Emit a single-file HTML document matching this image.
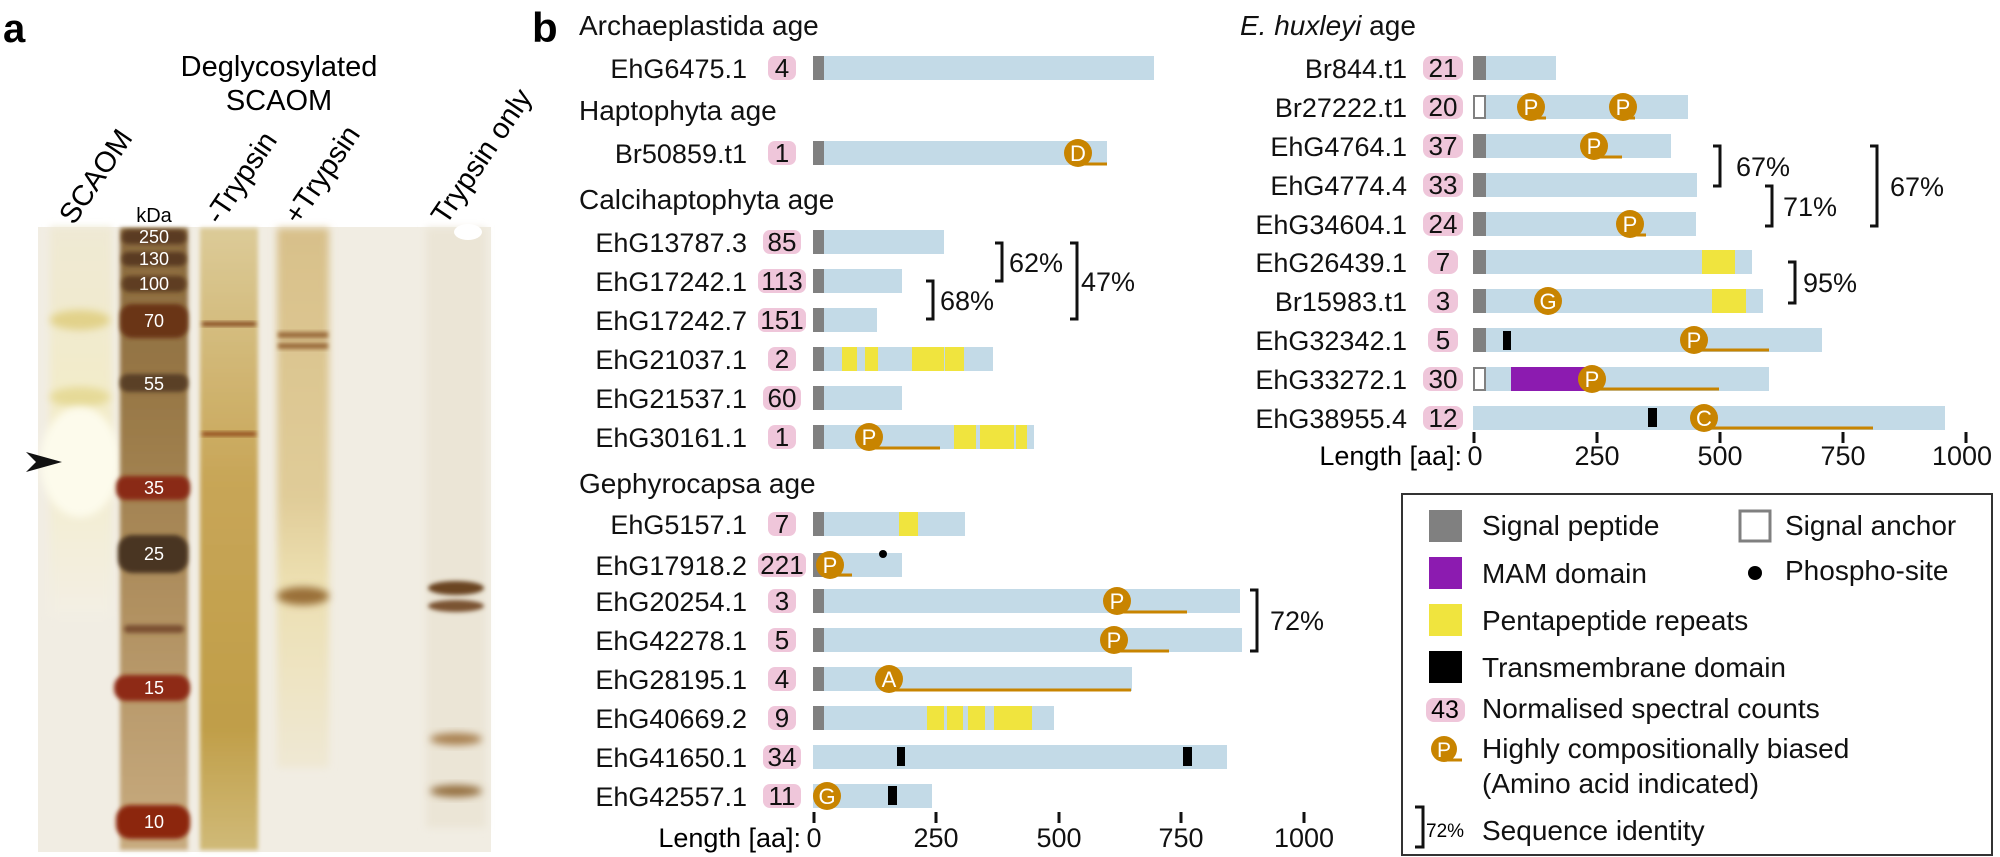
<!DOCTYPE html>
<html><head><meta charset="utf-8"><style>
html,body{margin:0;padding:0;background:#fff;}
svg{display:block;font-family:"Liberation Sans",Arial,sans-serif;}
</style></head><body>
<svg width="2000" height="857" viewBox="0 0 2000 857" xmlns="http://www.w3.org/2000/svg">
<defs>
<filter id="b2" x="-50%" y="-50%" width="200%" height="200%"><feGaussianBlur stdDeviation="2"/></filter>
<filter id="b4" x="-50%" y="-50%" width="200%" height="200%"><feGaussianBlur stdDeviation="4"/></filter>
<filter id="b8" x="-50%" y="-50%" width="200%" height="200%"><feGaussianBlur stdDeviation="8"/></filter>
<linearGradient id="ladder" x1="0" y1="0" x2="0" y2="1">
<stop offset="0" stop-color="#8a6a3e"/><stop offset="0.3" stop-color="#9a7a48"/><stop offset="0.6" stop-color="#b09060"/><stop offset="1" stop-color="#c8ac80"/></linearGradient>
<linearGradient id="minus" x1="0" y1="0" x2="0" y2="1">
<stop offset="0" stop-color="#dccb98"/><stop offset="0.4" stop-color="#c8a658"/><stop offset="0.8" stop-color="#c09e48"/><stop offset="1" stop-color="#d0ba78"/></linearGradient>
<linearGradient id="plus" x1="0" y1="0" x2="0" y2="1">
<stop offset="0" stop-color="#d8c08a"/><stop offset="0.5" stop-color="#e0cc98"/><stop offset="0.65" stop-color="#ecdfb0"/><stop offset="1" stop-color="#efe8d4"/></linearGradient>
<linearGradient id="sca" x1="0" y1="0" x2="0" y2="1">
<stop offset="0" stop-color="#efe9d4"/><stop offset="0.5" stop-color="#f3ecc8"/><stop offset="1" stop-color="#f3efe4"/></linearGradient>
</defs>

<!-- ===== Panel a ===== -->
<rect x="38" y="227" width="453" height="625" fill="#f1ede3"/>
<rect x="50" y="227" width="62" height="390" fill="url(#sca)" filter="url(#b4)"/>
<ellipse cx="80" cy="320" rx="30" ry="10" fill="#e2d28a" filter="url(#b4)"/>
<ellipse cx="80" cy="397" rx="30" ry="10" fill="#e6da98" filter="url(#b4)"/>
<ellipse cx="80" cy="462" rx="40" ry="55" fill="#fdfbec" filter="url(#b4)"/>
<polygon points="26,452 62,462 26,472 36,462" fill="#111"/>
<rect x="120" y="228" width="68" height="622" fill="url(#ladder)" filter="url(#b2)"/>
<g filter="url(#b2)">
<rect x="122" y="230" width="64" height="14" rx="6" fill="#5a3a22"/>
<rect x="122" y="252" width="64" height="14" rx="6" fill="#5a3a22"/>
<rect x="122" y="276" width="64" height="16" rx="7" fill="#5e3c22"/>
<rect x="120" y="304" width="68" height="34" rx="12" fill="#6a3418"/>
<rect x="120" y="374" width="68" height="18" rx="8" fill="#5a4028"/>
<rect x="116" y="476" width="74" height="24" rx="10" fill="#8a2a12"/>
<rect x="118" y="535" width="70" height="38" rx="14" fill="#4a3420"/>
<rect x="124" y="625" width="60" height="8" rx="4" fill="#7a5030"/>
<rect x="114" y="675" width="76" height="26" rx="12" fill="#8e2c12"/>
<rect x="116" y="805" width="74" height="34" rx="14" fill="#8c2810"/>
</g>
<g fill="#fff" font-size="18" text-anchor="middle">
<text x="154" y="243">250</text><text x="154" y="265">130</text><text x="154" y="290">100</text>
<text x="154" y="327">70</text><text x="154" y="390">55</text><text x="154" y="494">35</text>
<text x="154" y="560">25</text><text x="154" y="694">15</text><text x="154" y="828">10</text>
</g>
<rect x="200" y="228" width="58" height="622" fill="url(#minus)" filter="url(#b2)"/>
<rect x="202" y="322" width="54" height="4" fill="#7a3a18" filter="url(#b2)"/>
<rect x="202" y="432" width="54" height="4" fill="#8a4018" filter="url(#b2)"/>
<rect x="277" y="228" width="52" height="540" fill="url(#plus)" filter="url(#b4)"/>
<rect x="278" y="332" width="50" height="6" fill="#9a6a3a" filter="url(#b2)"/>
<rect x="278" y="343" width="50" height="6" fill="#9a6a3a" filter="url(#b2)"/>
<ellipse cx="303" cy="596" rx="26" ry="9" fill="#9a7038" filter="url(#b4)"/>
<rect x="426" y="228" width="60" height="600" fill="#ebe5d6" filter="url(#b4)"/>
<ellipse cx="456" cy="588" rx="28" ry="7" fill="#6a4422" filter="url(#b2)"/>
<ellipse cx="456" cy="606" rx="28" ry="6" fill="#7a5230" filter="url(#b2)"/>
<ellipse cx="456" cy="739" rx="26" ry="6" fill="#a88050" filter="url(#b4)"/>
<ellipse cx="456" cy="791" rx="26" ry="6" fill="#947040" filter="url(#b4)"/>
<ellipse cx="468" cy="232" rx="14" ry="8" fill="#fff"/>

<text x="3" y="42" font-size="40" font-weight="bold">a</text>
<text x="279" y="76" font-size="29" text-anchor="middle">Deglycosylated</text>
<text x="279" y="110" font-size="29" text-anchor="middle">SCAOM</text>
<g font-size="29">
<text transform="translate(74,226) rotate(-56)">SCAOM</text>
<text transform="translate(220,226) rotate(-56)">-Trypsin</text>
<text transform="translate(299,226) rotate(-56)">+Trypsin</text>
<text transform="translate(446,226) rotate(-56)">Trypsin only</text>
</g>
<text x="154" y="222" font-size="20" text-anchor="middle">kDa</text>

<!-- ===== Panel b ===== -->
<text x="532" y="42" font-size="42" font-weight="bold">b</text>
<g font-size="28" fill="#111">
<text x="579" y="35">Archaeplastida age</text>
<text x="579" y="120">Haptophyta age</text>
<text x="579" y="209">Calcihaptophyta age</text>
<text x="579" y="493">Gephyrocapsa age</text>
<text x="1240" y="35"><tspan font-style="italic">E. huxleyi</tspan> age</text>
</g>

<g font-size="27" fill="#111">
<g text-anchor="end">
<text x="747" y="78">EhG6475.1</text>
<text x="747" y="163">Br50859.t1</text>
<text x="747" y="252">EhG13787.3</text>
<text x="747" y="291">EhG17242.1</text>
<text x="747" y="330">EhG17242.7</text>
<text x="747" y="369">EhG21037.1</text>
<text x="747" y="408">EhG21537.1</text>
<text x="747" y="447">EhG30161.1</text>
<text x="747" y="534">EhG5157.1</text>
<text x="747" y="575">EhG17918.2</text>
<text x="747" y="611">EhG20254.1</text>
<text x="747" y="650">EhG42278.1</text>
<text x="747" y="689">EhG28195.1</text>
<text x="747" y="728">EhG40669.2</text>
<text x="747" y="767">EhG41650.1</text>
<text x="747" y="806">EhG42557.1</text>
</g>
</g>
<g fill="#efc6da">
<rect x="768" y="56" width="28" height="24" rx="7"/>
<rect x="768" y="141" width="28" height="24" rx="7"/>
<rect x="763" y="230" width="38" height="24" rx="7"/>
<rect x="758" y="269" width="48" height="24" rx="7"/>
<rect x="758" y="308" width="48" height="24" rx="7"/>
<rect x="768" y="347" width="28" height="24" rx="7"/>
<rect x="763" y="386" width="38" height="24" rx="7"/>
<rect x="768" y="425" width="28" height="24" rx="7"/>
<rect x="768" y="512" width="28" height="24" rx="7"/>
<rect x="758" y="553" width="48" height="24" rx="7"/>
<rect x="768" y="589" width="28" height="24" rx="7"/>
<rect x="768" y="628" width="28" height="24" rx="7"/>
<rect x="768" y="667" width="28" height="24" rx="7"/>
<rect x="768" y="706" width="28" height="24" rx="7"/>
<rect x="763" y="745" width="38" height="24" rx="7"/>
<rect x="763" y="784" width="38" height="24" rx="7"/>
</g>
<g font-size="26" fill="#111" text-anchor="middle">
<text x="782" y="77">4</text><text x="782" y="162">1</text><text x="782" y="251">85</text>
<text x="782" y="290">113</text><text x="782" y="329">151</text><text x="782" y="368">2</text>
<text x="782" y="407">60</text><text x="782" y="446">1</text><text x="782" y="533">7</text>
<text x="782" y="574">221</text><text x="782" y="610">3</text><text x="782" y="649">5</text>
<text x="782" y="688">4</text><text x="782" y="727">9</text><text x="782" y="766">34</text>
<text x="782" y="805">11</text>
</g>
<g fill="#c3dae7">
<rect x="813" y="56" width="341" height="24"/>
<rect x="813" y="141" width="294" height="24"/>
<rect x="813" y="230" width="131" height="24"/>
<rect x="813" y="269" width="89" height="24"/>
<rect x="813" y="308" width="64" height="24"/>
<rect x="813" y="347" width="180" height="24"/>
<rect x="813" y="386" width="89" height="24"/>
<rect x="813" y="425" width="221" height="24"/>
<rect x="813" y="512" width="152" height="24"/>
<rect x="813" y="553" width="89" height="24"/>
<rect x="813" y="589" width="427" height="24"/>
<rect x="813" y="628" width="429" height="24"/>
<rect x="813" y="667" width="319" height="24"/>
<rect x="813" y="706" width="241" height="24"/>
<rect x="813" y="745" width="414" height="24"/>
<rect x="813" y="784" width="119" height="24"/>
</g>
<g fill="#808080">
<rect x="813" y="56" width="11" height="24"/><rect x="813" y="141" width="11" height="24"/>
<rect x="813" y="230" width="11" height="24"/><rect x="813" y="269" width="11" height="24"/>
<rect x="813" y="308" width="11" height="24"/><rect x="813" y="347" width="11" height="24"/>
<rect x="813" y="386" width="11" height="24"/><rect x="813" y="425" width="11" height="24"/>
<rect x="813" y="512" width="11" height="24"/><rect x="813" y="553" width="11" height="24"/>
<rect x="813" y="589" width="11" height="24"/><rect x="813" y="628" width="11" height="24"/>
<rect x="813" y="667" width="11" height="24"/><rect x="813" y="706" width="11" height="24"/>
</g>
<g fill="#f0e43e">
<rect x="842" y="347" width="15" height="24"/><rect x="865" y="347" width="13" height="24"/>
<rect x="912" y="347" width="32" height="24"/><rect x="945" y="347" width="19" height="24"/>
<rect x="954" y="425" width="22" height="24"/><rect x="980" y="425" width="34" height="24"/><rect x="1016" y="425" width="11" height="24"/>
<rect x="899" y="512" width="19" height="24"/>
<rect x="927" y="706" width="17" height="24"/><rect x="947" y="706" width="16" height="24"/>
<rect x="968" y="706" width="17" height="24"/><rect x="994" y="706" width="38" height="24"/>
</g>
<g fill="#000">
<rect x="897" y="747" width="8" height="19"/><rect x="1183" y="747" width="9" height="19"/>
<rect x="888" y="786" width="9" height="19"/>
<circle cx="883" cy="554" r="4"/>
</g>
<g stroke="#c88400" stroke-width="3">
<line x1="1078" y1="164" x2="1107" y2="164"/>
<line x1="869" y1="448" x2="940" y2="448"/>
<line x1="830" y1="575" x2="852" y2="575"/>
<line x1="1117" y1="612" x2="1187" y2="612"/>
<line x1="1114" y1="651" x2="1169" y2="651"/>
<line x1="889" y1="690" x2="1131" y2="690"/>
</g>
<g fill="#c88400">
<circle cx="1078" cy="153" r="14"/><circle cx="869" cy="437" r="14"/><circle cx="830" cy="565" r="14"/>
<circle cx="1117" cy="601" r="14"/><circle cx="1114" cy="640" r="14"/><circle cx="889" cy="679" r="14"/>
<circle cx="827" cy="796" r="14"/>
</g>
<g fill="#fff" font-size="22" text-anchor="middle">
<text x="1078" y="161">D</text><text x="869" y="445">P</text><text x="830" y="573">P</text>
<text x="1117" y="609">P</text><text x="1114" y="648">P</text><text x="889" y="687">A</text>
<text x="827" y="804">G</text>
</g>
<g stroke="#111" stroke-width="3" fill="none">
<polyline points="995,243 1002,243 1002,281 995,281"/>
<polyline points="926,281 933,281 933,319 926,319"/>
<polyline points="1070,243 1077,243 1077,319 1070,319"/>
<polyline points="1250,590 1257,590 1257,651 1250,651"/>
</g>
<g font-size="27" fill="#111">
<text x="1009" y="272">62%</text><text x="940" y="310">68%</text>
<text x="1081" y="291">47%</text><text x="1270" y="630">72%</text>
</g>
<g stroke="#111" stroke-width="3">
<line x1="814" y1="812" x2="814" y2="823"/><line x1="936" y1="812" x2="936" y2="823"/>
<line x1="1059" y1="812" x2="1059" y2="823"/><line x1="1181" y1="812" x2="1181" y2="823"/>
<line x1="1304" y1="812" x2="1304" y2="823"/>
</g>
<g font-size="27" fill="#111" text-anchor="middle">
<text x="814" y="847">0</text><text x="936" y="847">250</text><text x="1059" y="847">500</text>
<text x="1181" y="847">750</text><text x="1304" y="847">1000</text>
</g>
<text x="801" y="847" font-size="27" text-anchor="end">Length [aa]:</text>

<g font-size="27" fill="#111" text-anchor="end">
<text x="1407" y="78">Br844.t1</text>
<text x="1407" y="117">Br27222.t1</text>
<text x="1407" y="156">EhG4764.1</text>
<text x="1407" y="195">EhG4774.4</text>
<text x="1407" y="234">EhG34604.1</text>
<text x="1407" y="272">EhG26439.1</text>
<text x="1407" y="311">Br15983.t1</text>
<text x="1407" y="350">EhG32342.1</text>
<text x="1407" y="389">EhG33272.1</text>
<text x="1407" y="428">EhG38955.4</text>
</g>
<g fill="#efc6da">
<rect x="1423" y="56" width="40" height="24" rx="8"/><rect x="1423" y="95" width="40" height="24" rx="8"/>
<rect x="1423" y="134" width="40" height="24" rx="8"/><rect x="1423" y="173" width="40" height="24" rx="8"/>
<rect x="1423" y="212" width="40" height="24" rx="8"/><rect x="1428" y="250" width="30" height="24" rx="8"/>
<rect x="1428" y="289" width="30" height="24" rx="8"/><rect x="1428" y="328" width="30" height="24" rx="8"/>
<rect x="1423" y="367" width="40" height="24" rx="8"/><rect x="1423" y="406" width="40" height="24" rx="8"/>
</g>
<g font-size="26" fill="#111" text-anchor="middle">
<text x="1443" y="77">21</text><text x="1443" y="116">20</text><text x="1443" y="155">37</text>
<text x="1443" y="194">33</text><text x="1443" y="233">24</text><text x="1443" y="271">7</text>
<text x="1443" y="310">3</text><text x="1443" y="349">5</text><text x="1443" y="388">30</text>
<text x="1443" y="427">12</text>
</g>
<g fill="#c3dae7">
<rect x="1473" y="56" width="83" height="24"/><rect x="1473" y="95" width="215" height="24"/>
<rect x="1473" y="134" width="198" height="24"/><rect x="1473" y="173" width="224" height="24"/>
<rect x="1473" y="212" width="223" height="24"/><rect x="1473" y="250" width="279" height="24"/>
<rect x="1473" y="289" width="290" height="24"/><rect x="1473" y="328" width="349" height="24"/>
<rect x="1473" y="367" width="296" height="24"/><rect x="1473" y="406" width="472" height="24"/>
</g>
<g fill="#808080">
<rect x="1473" y="56" width="13" height="24"/><rect x="1473" y="134" width="13" height="24"/>
<rect x="1473" y="173" width="13" height="24"/><rect x="1473" y="212" width="13" height="24"/>
<rect x="1473" y="250" width="13" height="24"/><rect x="1473" y="289" width="13" height="24"/>
<rect x="1473" y="328" width="13" height="24"/>
</g>
<g fill="#fff" stroke="#808080" stroke-width="2">
<rect x="1474" y="96" width="11" height="22"/><rect x="1474" y="368" width="11" height="22"/>
</g>
<rect x="1702" y="250" width="33" height="24" fill="#f0e43e"/>
<rect x="1712" y="289" width="34" height="24" fill="#f0e43e"/>
<rect x="1511" y="367" width="76" height="24" fill="#8c1bb0"/>
<rect x="1503" y="331" width="8" height="19" fill="#000"/>
<rect x="1648" y="408" width="9" height="19" fill="#000"/>
<g stroke="#c88400" stroke-width="3">
<line x1="1531" y1="118" x2="1546" y2="118"/><line x1="1623" y1="118" x2="1635" y2="118"/>
<line x1="1594" y1="157" x2="1622" y2="157"/><line x1="1630" y1="235" x2="1646" y2="235"/>
<line x1="1694" y1="350" x2="1769" y2="350"/><line x1="1592" y1="389" x2="1719" y2="389"/>
<line x1="1704" y1="428" x2="1873" y2="428"/>
</g>
<g fill="#c88400">
<circle cx="1531" cy="107" r="14"/><circle cx="1623" cy="107" r="14"/><circle cx="1594" cy="146" r="14"/>
<circle cx="1630" cy="224" r="14"/><circle cx="1548" cy="301" r="14"/><circle cx="1694" cy="340" r="14"/>
<circle cx="1592" cy="379" r="14"/><circle cx="1704" cy="418" r="14"/>
</g>
<g fill="#fff" font-size="22" text-anchor="middle">
<text x="1531" y="115">P</text><text x="1623" y="115">P</text><text x="1594" y="154">P</text>
<text x="1630" y="232">P</text><text x="1548" y="309">G</text><text x="1694" y="348">P</text>
<text x="1592" y="387">P</text><text x="1704" y="426">C</text>
</g>
<g stroke="#111" stroke-width="3" fill="none">
<polyline points="1713,146 1720,146 1720,186 1713,186"/>
<polyline points="1765,186 1772,186 1772,226 1765,226"/>
<polyline points="1870,146 1877,146 1877,226 1870,226"/>
<polyline points="1788,262 1795,262 1795,303 1788,303"/>
</g>
<g font-size="27" fill="#111">
<text x="1736" y="176">67%</text><text x="1783" y="216">71%</text>
<text x="1890" y="196">67%</text><text x="1803" y="292">95%</text>
</g>
<g stroke="#111" stroke-width="3">
<line x1="1474" y1="432" x2="1474" y2="443"/><line x1="1597" y1="432" x2="1597" y2="443"/>
<line x1="1720" y1="432" x2="1720" y2="443"/><line x1="1843" y1="432" x2="1843" y2="443"/>
<line x1="1966" y1="432" x2="1966" y2="443"/>
</g>
<g font-size="27" fill="#111" text-anchor="middle">
<text x="1475" y="465">0</text><text x="1597" y="465">250</text><text x="1720" y="465">500</text>
<text x="1843" y="465">750</text><text x="1962" y="465">1000</text>
</g>
<text x="1462" y="465" font-size="27" text-anchor="end">Length [aa]:</text>

<rect x="1402" y="494" width="590" height="361" fill="none" stroke="#333" stroke-width="2"/>
<rect x="1429" y="510" width="33" height="32" fill="#808080"/>
<rect x="1740" y="511" width="30" height="30" fill="#fff" stroke="#808080" stroke-width="3"/>
<rect x="1429" y="557" width="33" height="32" fill="#8c1bb0"/>
<circle cx="1755" cy="573" r="7" fill="#000"/>
<rect x="1429" y="604" width="33" height="32" fill="#f0e43e"/>
<rect x="1429" y="651" width="33" height="32" fill="#000"/>
<rect x="1426" y="698" width="39" height="24" rx="8" fill="#efc6da"/>
<text x="1445" y="718" font-size="25" text-anchor="middle">43</text>
<line x1="1444" y1="760" x2="1462" y2="760" stroke="#c88400" stroke-width="3"/>
<circle cx="1444" cy="749" r="13" fill="#c88400"/>
<text x="1444" y="757" font-size="21" fill="#fff" text-anchor="middle">P</text>
<polyline points="1415,807 1423,807 1423,847 1415,847" fill="none" stroke="#111" stroke-width="3"/>
<text x="1426" y="837" font-size="19">72%</text>
<g font-size="28" fill="#111">
<text x="1482" y="535">Signal peptide</text>
<text x="1785" y="535">Signal anchor</text>
<text x="1482" y="583">MAM domain</text>
<text x="1785" y="580">Phospho-site</text>
<text x="1482" y="630">Pentapeptide repeats</text>
<text x="1482" y="677">Transmembrane domain</text>
<text x="1482" y="718">Normalised spectral counts</text>
<text x="1482" y="758">Highly compositionally biased</text>
<text x="1482" y="793">(Amino acid indicated)</text>
<text x="1482" y="840">Sequence identity</text>
</g>
</svg>
</body></html>
